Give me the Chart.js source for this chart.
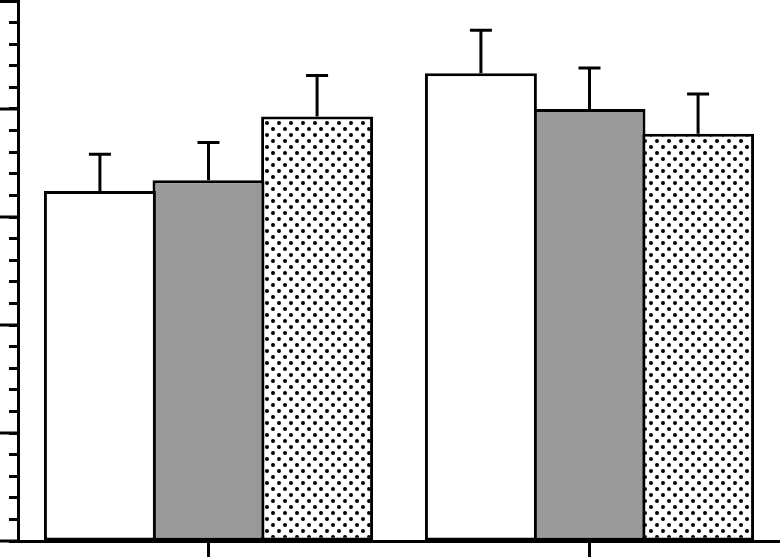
<!DOCTYPE html>
<html>
<head>
<meta charset="utf-8">
<script src="https://cdn.jsdelivr.net/npm/chart.js@4"></script>
<style>
  html, body { margin: 0; padding: 0; background: #fff; }
  #wrap { width: 780px; height: 558px; }
</style>
</head>
<body>
<div id="wrap"><canvas id="grafik"></canvas></div>
<script>
// data
const categories = ["Group 1", "Group 2"];
const seriesWhite = [32.4, 43.3];
const seriesGray = [33.4, 40.0];
const seriesDotted = [39.3, 37.7];
const errWhite = [35.8, 47.3];
const errGray = [36.9, 43.8];
const errDotted = [43.1, 41.4];
const majorTicks = [0, 10, 20, 30, 40, 50];

// dotted fill
function buatPolaTitik() {
    const c = document.createElement("canvas");
    c.width = 12; c.height = 12;
    const g = c.getContext("2d");
    g.fillStyle = "#fff";
    g.fillRect(0, 0, 12, 12);
    g.fillStyle = "#000";
    [[3, 3], [9, 9]].forEach(p => {
        g.beginPath();
        g.arc(p[0], p[1], 2.0, 0, Math.PI * 2);
        g.fill();
    });
    return g.createPattern(c, "repeat");
}

const errorBarPlugin = {
    id: "errorBars",
    afterDatasetsDraw(chart) {
        const ctx = chart.ctx;
        const y = chart.scales.y;
        ctx.save();
        ctx.strokeStyle = "#000";
        ctx.lineWidth = 3;
        chart.data.datasets.forEach((ds, i) => {
            chart.getDatasetMeta(i).data.forEach((bar, j) => {
                const yTop = y.getPixelForValue(ds.errTop[j]);
                ctx.beginPath();
                ctx.moveTo(bar.x, bar.y);
                ctx.lineTo(bar.x, yTop);
                ctx.moveTo(bar.x - 11, yTop);
                ctx.lineTo(bar.x + 11, yTop);
                ctx.stroke();
            });
        });
        ctx.restore();
    },
    afterDraw(chart) {
        // long marks for the major steps of the y axis
        const ctx = chart.ctx;
        const y = chart.scales.y;
        ctx.save();
        ctx.strokeStyle = "#000";
        ctx.lineWidth = 3;
        majorTicks.forEach(v => {
            const py = Math.max(1.5, y.getPixelForValue(v));
            ctx.beginPath();
            ctx.moveTo(0, py);
            ctx.lineTo(chart.chartArea.left, py);
            ctx.stroke();
        });
        ctx.restore();
    }
};

const ctx = document.getElementById("grafik").getContext("2d");
new Chart(ctx, {
    type: "bar",
    data: {
        labels: categories,
        datasets: [
            { data: seriesWhite, errTop: errWhite, backgroundColor: "#ffffff" },
            { data: seriesGray, errTop: errGray, backgroundColor: "#999999" },
            { data: seriesDotted, errTop: errDotted, backgroundColor: buatPolaTitik() }
        ]
    },
    options: {
        responsive: true,
        maintainAspectRatio: false,
        animation: false,
        layout: { padding: { left: 9, right: 0, top: 1, bottom: 1 } },
        datasets: {
            bar: {
                borderColor: "#000",
                borderWidth: 3,
                borderSkipped: false,
                categoryPercentage: 0.855,
                barPercentage: 1.031
            }
        },
        plugins: { legend: { display: false }, tooltip: { enabled: false } },
        scales: {
            x: {
                ticks: { display: false },
                grid: { offset: false, drawOnChartArea: false, tickLength: 16, tickWidth: 3, tickColor: "#000" },
                border: { color: "#000", width: 3 }
            },
            y: {
                min: 0, max: 50,
                ticks: { display: false, stepSize: 2 },
                grid: { drawOnChartArea: false, tickLength: 9, tickWidth: 3, tickColor: "#000" },
                border: { color: "#000", width: 3 }
            }
        }
    },
    plugins: [errorBarPlugin]
});
</script>
</body>
</html>
